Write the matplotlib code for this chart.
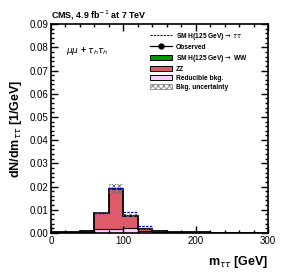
import numpy as np
import matplotlib.pyplot as plt
from matplotlib.ticker import MultipleLocator

plt.rcParams['font.family'] = ['Liberation Sans', 'DejaVu Sans']
plt.rcParams['hatch.linewidth'] = 0.6

# 20 GeV bins from 0 to 300
edges = np.arange(0, 320, 20)
reducible = [0.0001, 0.0001, 0.0002, 0.0015, 0.0015, 0.0020, 0.0010, 0.0004,
             0.0002, 0.0001, 0.0001, 0.0001, 0.0001, 0.0000, 0.0000]
zz = [0.0001, 0.0002, 0.0006, 0.0070, 0.0175, 0.0055, 0.0006, 0.0004,
      0.0001, 0.0001, 0.0001, 0.0000, 0.0000, 0.0001, 0.0001]
ww = [0.0, 0.0, 0.0, 0.00005, 0.00005, 0.00005, 0.0, 0.0,
      0.0, 0.0, 0.0, 0.0, 0.0, 0.0, 0.0]
htt = [0.0, 0.0, 0.0, 0.0002, 0.0004, 0.0015, 0.0013, 0.0002,
       0.0, 0.0, 0.0, 0.0, 0.0, 0.0, 0.0]
bkg_unc = [0.0, 0.0, 0.0001, 0.0006, 0.0022, 0.0008, 0.0002, 0.0001,
           0.0, 0.0, 0.0, 0.0, 0.0, 0.0, 0.0]

red = np.array(reducible)
b1 = red + np.array(zz)
b2 = b1 + np.array(ww)
sig = b2 + np.array(htt)
unc = np.array(bkg_unc)

fig = plt.figure(figsize=(2.83, 2.74), dpi=100)
ax = fig.add_axes([0.18, 0.15, 0.767, 0.762])

ax.stairs(red, edges, baseline=0, fill=True, color='#ffccff')
ax.stairs(b1, edges, baseline=red, fill=True, color='#de5a6a')
ax.stairs(b2, edges, baseline=b1, fill=True, color='#009900')
ax.stairs(red, edges, color='black', lw=0.8)
ax.stairs(b1, edges, color='black', lw=1.3)
ax.stairs(b2 + unc, edges, baseline=b2 - unc, fill=True, facecolor='none',
          edgecolor='#6a6a6a', lw=0, hatch='xxxxxx')
has_sig = np.array(htt) > 0
ax.hlines(sig[has_sig], edges[:-1][has_sig], edges[1:][has_sig],
          color='blue', lw=0.9, ls=(0, (2, 1)))

# legend proxies
ax.plot([], [], color='blue', lw=0.8, ls=(0, (2, 1)), label=r'SM H(125 GeV)$\rightarrow\,\tau\tau$')
ax.plot([], [], color='black', marker='o', ms=3.5, lw=0.9, label='Observed')
ax.fill_between([], [], color='#009900', ec='black', lw=0.7, label=r'SM H(125 GeV)$\rightarrow$ WW')
ax.fill_between([], [], color='#de5a6a', ec='black', lw=0.7, label='ZZ')
ax.fill_between([], [], color='#ffccff', ec='black', lw=0.7, label='Reducible bkg.')
ax.fill_between([], [], facecolor='white', ec='#888888', lw=0.6, hatch='xxxxxx',
                label='Bkg. uncertainty')
leg = ax.legend(loc='upper left', bbox_to_anchor=(0.45, 0.975), frameon=False,
                fontsize=4.8, handlelength=3.3, handleheight=0.9,
                labelspacing=0.3, borderaxespad=0.0, borderpad=0.2,
                handletextpad=0.6)
for t in leg.get_texts():
    t.set_fontweight('bold')

ax.set_xlim(0, 300)
ax.set_ylim(0, 0.09)
ax.xaxis.set_major_locator(MultipleLocator(100))
ax.xaxis.set_minor_locator(MultipleLocator(20))
ax.yaxis.set_major_locator(MultipleLocator(0.01))
ax.yaxis.set_minor_locator(MultipleLocator(0.002))
ax.yaxis.set_major_formatter(plt.FormatStrFormatter('%.2f'))
ax.tick_params(which='both', direction='in', top=True, right=True,
               labelsize=7, pad=2)
ax.tick_params(which='major', length=5, width=1)
ax.tick_params(which='minor', length=2.5, width=1)
for s in ax.spines.values():
    s.set_linewidth(1.2)

ax.set_ylabel(r'dN/dm$_{\tau\tau}$ [1/GeV]', fontsize=9, fontweight='bold')
ax.set_xlabel(r'm$_{\tau\tau}$ [GeV]', fontsize=9, fontweight='bold',
              loc='right', labelpad=6)
ax.text(0.0, 1.012, r'CMS, 4.9 fb$^{-1}$ at 7 TeV', transform=ax.transAxes,
        fontsize=6.4, fontweight='bold', ha='left', va='bottom')
ax.text(0.07, 0.87, r'$\mu\mu$ + $\tau_h\tau_h$', transform=ax.transAxes,
        fontsize=6.5, fontweight='bold', ha='left', va='center')

fig.savefig('out.png', dpi=100)
